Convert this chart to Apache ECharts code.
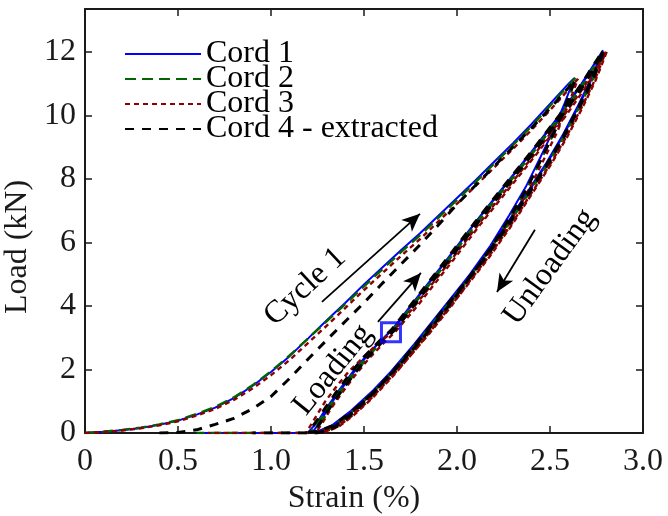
<!DOCTYPE html>
<html>
<head>
<meta charset="utf-8">
<title>Cord cyclic loading</title>
<script src="https://cdn.jsdelivr.net/npm/echarts@6/dist/echarts.min.js"></script>
<style>
  html, body { margin: 0; padding: 0; background: #fff; }
  #chart { width: 668px; height: 516px; }
</style>
</head>
<body>
<div id="chart"></div>
<script>
// Strain (%) vs load (kN) for four cords under cyclic loading.
// Each cord: first loading, first unloading, two further load/unload loops, and the return along zero load.

const xTicks = [0, 0.5, 1.0, 1.5, 2.0, 2.5, 3.0];
const yTicks = [0, 2, 4, 6, 8, 10, 12];

// ---- Cord 1 ----
const c1Load1 = [[0,0],[0.1,0.04],[0.2,0.09],[0.3,0.16],[0.4,0.26],[0.5,0.39],[0.6,0.58],[0.7,0.8],[0.8,1.1],[0.9,1.48],[1.0,1.92],[1.1,2.42],[1.2,2.98],[1.3,3.55],[1.4,4.1],[1.5,4.68],[1.6,5.22],[1.7,5.76],[1.8,6.28],[1.9,6.84],[2.0,7.4],[2.1,7.96],[2.2,8.54],[2.3,9.12],[2.4,9.72],[2.5,10.36],[2.6,11.0],[2.63,11.17]];
const c1Unload1 = [[2.63,11.17],[2.58,10.4],[2.52,9.55],[2.45,8.7],[2.37,7.75],[2.28,6.85],[2.18,5.9],[2.07,5.0],[1.95,4.05],[1.82,3.1],[1.68,2.15],[1.55,1.35],[1.43,0.7],[1.33,0.25],[1.25,0.05],[1.2,0.02]];
const c1Reload1 = [[1.2,0.02],[1.25,0.35],[1.3,0.8],[1.36,1.3],[1.43,1.85],[1.5,2.35],[1.58,2.85],[1.65,3.25],[1.75,4.0],[1.85,4.75],[1.95,5.5],[2.1,6.65],[2.25,7.75],[2.4,8.85],[2.55,10.0],[2.67,11.0],[2.78,12.0]];
const c1Unload2 = [[2.78,12.0],[2.72,11.15],[2.65,10.3],[2.57,9.4],[2.48,8.5],[2.38,7.6],[2.27,6.6],[2.15,5.6],[2.03,4.7],[1.9,3.75],[1.77,2.8],[1.64,1.9],[1.52,1.15],[1.42,0.6],[1.34,0.22],[1.27,0.04],[1.22,0.0]];
const c1Reload2 = [[1.22,0.0],[1.27,0.4],[1.32,0.9],[1.38,1.4],[1.45,1.95],[1.52,2.45],[1.59,2.9],[1.66,3.3],[1.76,4.05],[1.86,4.8],[1.96,5.55],[2.11,6.7],[2.26,7.8],[2.41,8.9],[2.56,10.05],[2.68,11.05],[2.785,12.05]];
const c1Unload3 = [[2.785,12.05],[2.725,11.15],[2.655,10.3],[2.575,9.4],[2.485,8.5],[2.385,7.6],[2.275,6.6],[2.155,5.6],[2.035,4.7],[1.905,3.75],[1.775,2.8],[1.645,1.9],[1.525,1.15],[1.425,0.6],[1.345,0.22],[1.275,0.04],[1.24,0.0]];
const c1Tail = [[1.24,0],[1.0,0],[0.8,0],[0.63,0]];

// ---- Cord 2 ----
const c2Load1 = [[0,0],[0.1,0.04],[0.2,0.1],[0.3,0.17],[0.4,0.27],[0.5,0.4],[0.6,0.6],[0.7,0.82],[0.8,1.12],[0.9,1.5],[1.0,1.94],[1.1,2.44],[1.2,2.98],[1.3,3.52],[1.4,4.06],[1.5,4.62],[1.6,5.16],[1.7,5.7],[1.8,6.22],[1.9,6.78],[2.0,7.34],[2.1,7.9],[2.2,8.48],[2.3,9.06],[2.4,9.66],[2.5,10.3],[2.6,10.95],[2.64,11.2]];
const c2Unload1 = [[2.64,11.2],[2.59,10.4],[2.53,9.55],[2.46,8.7],[2.38,7.75],[2.29,6.85],[2.19,5.9],[2.08,5.0],[1.96,4.05],[1.83,3.1],[1.69,2.15],[1.56,1.35],[1.44,0.7],[1.34,0.25],[1.26,0.05],[1.21,0.02]];
const c2Reload1 = [[1.21,0.02],[1.26,0.38],[1.31,0.82],[1.37,1.32],[1.44,1.87],[1.51,2.37],[1.59,2.87],[1.66,3.27],[1.76,4.02],[1.86,4.77],[1.96,5.52],[2.11,6.67],[2.26,7.77],[2.41,8.87],[2.56,10.02],[2.68,11.02],[2.79,12.02]];
const c2Unload2 = [[2.79,12.02],[2.73,11.15],[2.66,10.3],[2.58,9.4],[2.49,8.5],[2.39,7.6],[2.28,6.6],[2.16,5.6],[2.04,4.7],[1.91,3.75],[1.78,2.8],[1.65,1.9],[1.53,1.15],[1.43,0.6],[1.35,0.22],[1.28,0.04],[1.23,0.0]];
const c2Reload2 = [[1.23,0],[1.28,0.42],[1.33,0.9],[1.39,1.4],[1.46,1.95],[1.53,2.45],[1.6,2.92],[1.67,3.32],[1.77,4.06],[1.87,4.81],[1.97,5.56],[2.12,6.71],[2.27,7.81],[2.42,8.91],[2.57,10.06],[2.69,11.06],[2.795,12.06]];
const c2Unload3 = [[2.795,12.06],[2.735,11.17],[2.665,10.32],[2.585,9.42],[2.495,8.52],[2.395,7.62],[2.285,6.62],[2.165,5.62],[2.045,4.72],[1.915,3.77],[1.785,2.82],[1.655,1.92],[1.535,1.17],[1.435,0.62],[1.355,0.23],[1.285,0.05],[1.25,0]];
const c2Tail = [[1.25,0],[1.0,0],[0.75,0],[0.6,0]];

// ---- Cord 3 ----
const c3Load1 = [[0,0],[0.1,0.03],[0.2,0.08],[0.3,0.15],[0.4,0.24],[0.5,0.37],[0.6,0.55],[0.7,0.76],[0.8,1.04],[0.9,1.4],[1.0,1.82],[1.1,2.3],[1.2,2.84],[1.3,3.38],[1.4,3.94],[1.5,4.5],[1.6,5.04],[1.7,5.58],[1.8,6.1],[1.9,6.66],[2.0,7.22],[2.1,7.78],[2.2,8.36],[2.3,8.94],[2.4,9.54],[2.5,10.16],[2.6,10.82],[2.65,11.15]];
const c3Unload1 = [[2.65,11.15],[2.6,10.35],[2.54,9.5],[2.47,8.65],[2.39,7.7],[2.3,6.8],[2.2,5.85],[2.09,4.95],[1.97,4.0],[1.84,3.05],[1.7,2.1],[1.57,1.3],[1.45,0.68],[1.35,0.24],[1.26,0.05],[1.19,0.02]];
const c3Reload1 = [[1.19,0.02],[1.24,0.5],[1.29,0.98],[1.35,1.45],[1.42,1.95],[1.5,2.4],[1.58,2.85],[1.66,3.22],[1.77,3.98],[1.87,4.72],[1.97,5.46],[2.12,6.6],[2.27,7.7],[2.42,8.8],[2.57,9.96],[2.69,10.96],[2.8,12.0]];
const c3Unload2 = [[2.8,12.0],[2.74,11.1],[2.67,10.25],[2.59,9.35],[2.5,8.45],[2.4,7.55],[2.29,6.55],[2.17,5.55],[2.05,4.65],[1.92,3.7],[1.79,2.75],[1.66,1.85],[1.54,1.1],[1.44,0.56],[1.36,0.2],[1.29,0.04],[1.24,0]];
const c3Reload2 = [[1.24,0],[1.28,0.35],[1.32,0.75],[1.38,1.25],[1.45,1.8],[1.52,2.3],[1.6,2.8],[1.67,3.2],[1.78,3.95],[1.88,4.7],[1.98,5.45],[2.13,6.6],[2.28,7.7],[2.43,8.8],[2.58,9.95],[2.7,10.95],[2.805,12.0]];
const c3Unload3 = [[2.805,12.0],[2.745,11.1],[2.675,10.25],[2.595,9.35],[2.505,8.45],[2.405,7.55],[2.295,6.55],[2.175,5.55],[2.055,4.65],[1.925,3.7],[1.795,2.75],[1.665,1.85],[1.545,1.1],[1.445,0.56],[1.365,0.2],[1.295,0.04],[1.26,0]];
const c3Tail = [[1.26,0],[1.0,0],[0.8,0],[0.66,0]];

// ---- Cord 4 (extracted) ----
const c4Load1 = [[0.4,0],[0.5,0.02],[0.6,0.1],[0.7,0.27],[0.8,0.46],[0.9,0.76],[1.0,1.15],[1.1,1.72],[1.2,2.33],[1.3,2.93],[1.4,3.52],[1.5,4.1],[1.6,4.72],[1.7,5.32],[1.8,5.92],[1.9,6.55],[2.0,7.2],[2.1,7.8],[2.2,8.4],[2.3,9.0],[2.4,9.6],[2.5,10.22],[2.6,10.88],[2.635,11.12]];
const c4Unload1 = [[2.635,11.12],[2.585,10.35],[2.525,9.5],[2.455,8.65],[2.375,7.7],[2.285,6.8],[2.185,5.85],[2.075,4.95],[1.955,4.0],[1.825,3.05],[1.685,2.1],[1.555,1.3],[1.435,0.68],[1.335,0.24],[1.255,0.05],[1.2,0.02]];
const c4Reload1 = [[1.2,0.02],[1.25,0.42],[1.3,0.86],[1.36,1.36],[1.43,1.9],[1.5,2.4],[1.58,2.88],[1.65,3.26],[1.75,4.02],[1.85,4.77],[1.95,5.52],[2.1,6.66],[2.25,7.76],[2.4,8.86],[2.55,10.0],[2.67,11.0],[2.785,12.04]];
const c4Unload2 = [[2.785,12.04],[2.725,11.13],[2.655,10.28],[2.575,9.38],[2.485,8.48],[2.385,7.58],[2.275,6.58],[2.155,5.58],[2.035,4.68],[1.905,3.73],[1.775,2.78],[1.645,1.88],[1.525,1.13],[1.425,0.58],[1.345,0.21],[1.275,0.04],[1.23,0]];
const c4Reload2 = [[1.23,0],[1.27,0.38],[1.32,0.84],[1.38,1.34],[1.45,1.88],[1.52,2.38],[1.6,2.88],[1.67,3.27],[1.77,4.03],[1.87,4.78],[1.97,5.53],[2.12,6.68],[2.27,7.78],[2.42,8.88],[2.57,10.02],[2.69,11.02],[2.79,12.02]];
const c4Unload3 = [[2.79,12.02],[2.73,11.12],[2.66,10.27],[2.58,9.37],[2.49,8.47],[2.39,7.57],[2.28,6.57],[2.16,5.57],[2.04,4.67],[1.91,3.72],[1.78,2.77],[1.65,1.87],[1.53,1.12],[1.43,0.57],[1.35,0.2],[1.28,0.04],[1.24,0]];
const c4Tail = [[1.24,0],[1.1,0],[0.9,0]];

// Highlighted point on the loading branch
const markerPoint = [[1.645, 3.17]];

// Direction arrows [from, to] in data units
const arrowCycle1 = [[1.274, 4.13], [1.801, 6.9]];
const arrowLoading = [[1.575, 3.5], [1.806, 5.04]];
const arrowUnloading = [[2.419, 6.4], [2.215, 4.44]];

// Rotated text labels: [strain, load], angle in degrees
const labelTexts = ['Cycle 1', 'Loading', 'Unloading'];
const labelAt = [[1.183, 4.6], [1.333, 1.99], [2.5, 5.23]];
const labelAngle = [43, 51, 54];

const SERIF = '"Liberation Serif", "Times New Roman", serif';
const INK = '#1a1a1a';
const FS = 32;

const cords = [
  { name: 'Cord 1', color: '#0000ff', width: 2, type: 'solid',
    parts: [c1Load1, c1Unload1, c1Reload1, c1Unload2, c1Reload2, c1Unload3, c1Tail] },
  { name: 'Cord 2', color: '#006400', width: 2.4, type: [11, 6],
    parts: [c2Load1, c2Unload1, c2Reload1, c2Unload2, c2Reload2, c2Unload3, c2Tail] },
  { name: 'Cord 3', color: '#8b0000', width: 2.4, type: [5, 4],
    parts: [c3Load1, c3Unload1, c3Reload1, c3Unload2, c3Reload2, c3Unload3, c3Tail] },
  { name: 'Cord 4 - extracted', color: '#000000', width: 3, type: [9, 8],
    parts: [c4Load1, c4Unload1, c4Reload1, c4Unload2, c4Reload2, c4Unload3, c4Tail] }
];

const chart = echarts.init(document.getElementById('chart'), null, { renderer: 'canvas' });

const axisCommon = {
  axisLine: { show: true, onZero: false, lineStyle: { color: INK, width: 2 } },
  axisTick: { show: true, inside: true, length: 7, lineStyle: { color: INK, width: 1.5 } },
  splitLine: { show: false }
};

const cordSeries = cords.map(c => ({
  name: c.name,
  type: 'line',
  data: [].concat(...c.parts),
  symbol: 'none',
  showSymbol: false,
  smooth: false,
  lineStyle: { color: c.color, width: c.width, type: c.type },
  itemStyle: { color: c.color },
  emphasis: { disabled: true },
  animation: false
}));

const arrowSeries = {
  name: 'arrows',
  type: 'line',
  data: [],
  silent: true,
  animation: false,
  markLine: {
    silent: true,
    animation: false,
    symbol: ['none', 'arrow'],
    symbolSize: [12, 18],
    label: { show: false },
    lineStyle: { color: '#000', width: 1.8, type: 'solid' },
    emphasis: { disabled: true },
    data: [arrowCycle1, arrowLoading, arrowUnloading].map(a => [{ coord: a[0] }, { coord: a[1] }])
  }
};

const markerSeries = {
  name: 'marker',
  type: 'scatter',
  data: markerPoint,
  symbol: 'rect',
  symbolSize: 19,
  silent: true,
  animation: false,
  itemStyle: { color: 'rgba(0,0,0,0)', borderColor: '#0000ff', borderWidth: 3 },
  z: 5
};

const option = {
  backgroundColor: '#fff',
  animation: false,
  grid: { left: 85, right: 25, top: 9, bottom: 83, containLabel: false, outerBoundsMode: 'none' },
  legend: {
    data: cords.map(c => c.name),
    orient: 'vertical',
    left: 124,
    top: 38,
    padding: 0,
    itemWidth: 76,
    itemHeight: 14,
    itemGap: -7,
    selectedMode: false,
    itemStyle: { opacity: 0 },
    textStyle: { fontFamily: SERIF, fontSize: FS, color: '#000', padding: [0, 0, 0, 0] }
  },
  xAxis: [
    Object.assign({
      type: 'value', min: 0, max: 3, interval: 0.5, position: 'bottom',
      name: 'Strain (%)', nameLocation: 'middle', nameGap: 46,
      nameTextStyle: { fontFamily: SERIF, fontSize: FS, color: INK, padding: [0, 20, 0, 0] },
      axisLabel: {
        margin: 13, fontFamily: SERIF, fontSize: FS, color: INK,
        formatter: v => (xTicks.indexOf(v) < 0 ? '' : (v === 0 ? '0' : v.toFixed(1)))
      }
    }, axisCommon),
    Object.assign({
      type: 'value', min: 0, max: 3, interval: 0.5, position: 'top',
      axisLabel: { show: false }
    }, axisCommon)
  ],
  yAxis: [
    Object.assign({
      type: 'value', min: 0, max: 13.35, interval: 2, position: 'left',
      name: 'Load (kN)', nameLocation: 'middle', nameGap: 50, nameRotate: 90,
      nameTextStyle: { fontFamily: SERIF, fontSize: FS, color: INK, padding: [0, 52, 0, 0] },
      axisLabel: {
        margin: 9, fontFamily: SERIF, fontSize: FS, color: INK, showMaxLabel: false,
        formatter: v => (yTicks.indexOf(v) < 0 ? '' : String(v))
      }
    }, axisCommon),
    Object.assign({
      type: 'value', min: 0, max: 13.35, interval: 2, position: 'right',
      axisLabel: { show: false }
    }, axisCommon)
  ],
  series: cordSeries.concat([arrowSeries, markerSeries])
};

chart.setOption(option);

// Rotated text labels placed from data coordinates
const graphics = labelTexts.map((t, i) => {
  const p = chart.convertToPixel({ xAxisIndex: 0, yAxisIndex: 0 }, labelAt[i]);
  return {
    type: 'text',
    x: p[0],
    y: p[1],
    rotation: labelAngle[i] * Math.PI / 180,
    silent: true,
    z: 10,
    style: {
      text: t,
      fontFamily: SERIF,
      fontSize: FS,
      fill: '#000',
      align: 'center',
      verticalAlign: 'middle'
    }
  };
});
chart.setOption({ graphic: graphics });
</script>
</body>
</html>
